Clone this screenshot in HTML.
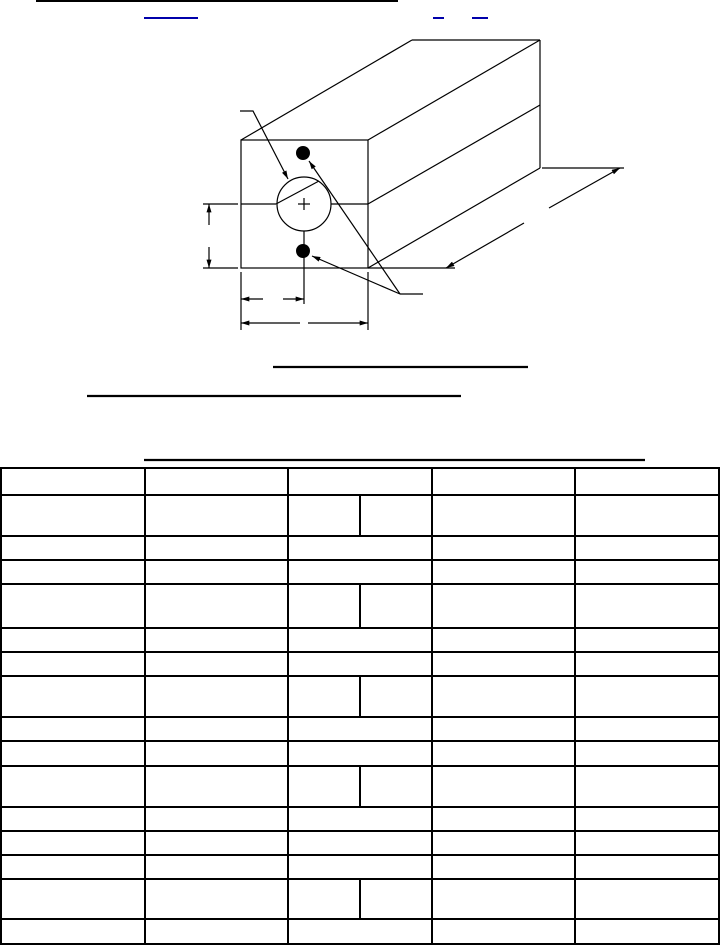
<!DOCTYPE html>
<html><head><meta charset="utf-8"><style>
html,body{margin:0;padding:0;background:#fff;}
svg{display:block;}
</style></head><body>
<svg width="720" height="946" viewBox="0 0 720 946" xmlns="http://www.w3.org/2000/svg">
<defs>
<marker id="ar" viewBox="0 0 10 6" refX="10" refY="3" markerWidth="9" markerHeight="5" orient="auto" markerUnits="userSpaceOnUse">
<path d="M0,0 L10,3 L0,6 z" fill="#000"/></marker>
</defs>
<g stroke="#000" fill="none">
<line x1="36" y1="1" x2="398" y2="1" stroke-width="2"/>
</g>
<g stroke="#0000aa" stroke-width="2">
<line x1="144" y1="18" x2="198" y2="18"/>
<line x1="433" y1="18" x2="444" y2="18"/>
<line x1="472" y1="18" x2="488" y2="18"/>
</g>
<g stroke="#000" stroke-width="1.2" fill="none">
<rect x="241" y="140" width="127" height="128"/>
<line x1="241" y1="140" x2="412" y2="40"/>
<line x1="412" y1="40" x2="540" y2="40"/>
<line x1="368" y1="140" x2="540" y2="40"/>
<line x1="540" y1="40" x2="540" y2="168"/>
<line x1="368" y1="204" x2="540" y2="105"/>
<line x1="368" y1="268" x2="540" y2="168"/>
<line x1="241" y1="204" x2="276" y2="204"/>
<line x1="331" y1="204" x2="368" y2="204"/>
<circle cx="304" cy="204" r="27"/>
<line x1="276" y1="204" x2="319" y2="181"/>
<line x1="298" y1="204" x2="310" y2="204"/>
<line x1="304" y1="198" x2="304" y2="210"/>
<line x1="304" y1="231" x2="304" y2="304"/>
<polyline points="240,111 253,111 288,179" marker-end="url(#ar)"/>
<line x1="400" y1="294" x2="423" y2="294"/>
<line x1="400" y1="294" x2="309" y2="161" marker-end="url(#ar)"/>
<line x1="400" y1="294" x2="312" y2="256" marker-end="url(#ar)"/>
<line x1="203" y1="204" x2="238" y2="204"/>
<line x1="203" y1="268" x2="238" y2="268"/>
<line x1="209" y1="225" x2="209" y2="204" marker-end="url(#ar)"/>
<line x1="209" y1="247" x2="209" y2="268" marker-end="url(#ar)"/>
<line x1="241" y1="272" x2="241" y2="330"/>
<line x1="368" y1="272" x2="368" y2="330"/>
<line x1="263" y1="299" x2="241" y2="299" marker-end="url(#ar)"/>
<line x1="283" y1="299" x2="304" y2="299" marker-end="url(#ar)"/>
<line x1="300" y1="323" x2="241" y2="323" marker-end="url(#ar)"/>
<line x1="308" y1="323" x2="368" y2="323" marker-end="url(#ar)"/>
<line x1="542" y1="168" x2="624" y2="168"/>
<line x1="368" y1="268" x2="455" y2="268"/>
<line x1="524" y1="223" x2="446" y2="268" marker-end="url(#ar)"/>
<line x1="549" y1="208" x2="620" y2="168" marker-end="url(#ar)"/>
</g>
<circle cx="303" cy="153" r="7" fill="#000"/>
<circle cx="303" cy="251" r="7" fill="#000"/>
<g stroke="#000" stroke-width="2.2">
<line x1="273" y1="367" x2="528" y2="367"/>
<line x1="87" y1="396" x2="461" y2="396"/>
<line x1="144" y1="460" x2="645" y2="460"/>
</g>
<g stroke="#000" stroke-width="2" fill="none">
<rect x="1" y="468" width="718" height="476"/>
<line x1="145" y1="468" x2="145" y2="944"/>
<line x1="288" y1="468" x2="288" y2="944"/>
<line x1="432" y1="468" x2="432" y2="944"/>
<line x1="575" y1="468" x2="575" y2="944"/>
<line x1="0" y1="495" x2="720" y2="495"/>
<line x1="0" y1="536" x2="720" y2="536"/>
<line x1="0" y1="560" x2="720" y2="560"/>
<line x1="0" y1="584" x2="720" y2="584"/>
<line x1="0" y1="628" x2="720" y2="628"/>
<line x1="0" y1="652" x2="720" y2="652"/>
<line x1="0" y1="676" x2="720" y2="676"/>
<line x1="0" y1="717" x2="720" y2="717"/>
<line x1="0" y1="741" x2="720" y2="741"/>
<line x1="0" y1="766" x2="720" y2="766"/>
<line x1="0" y1="807" x2="720" y2="807"/>
<line x1="0" y1="831" x2="720" y2="831"/>
<line x1="0" y1="855" x2="720" y2="855"/>
<line x1="0" y1="879" x2="720" y2="879"/>
<line x1="0" y1="919" x2="720" y2="919"/>
<line x1="360" y1="495" x2="360" y2="536"/>
<line x1="360" y1="584" x2="360" y2="628"/>
<line x1="360" y1="676" x2="360" y2="717"/>
<line x1="360" y1="766" x2="360" y2="807"/>
<line x1="360" y1="879" x2="360" y2="919"/>
</g>
</svg>
</body></html>
